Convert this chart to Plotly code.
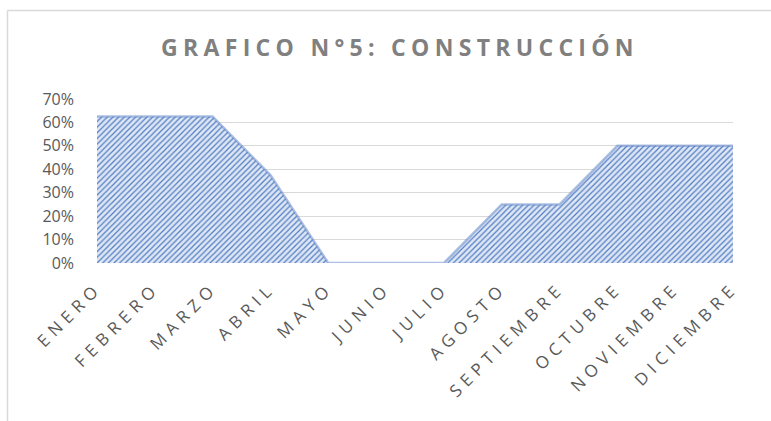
import plotly.graph_objects as go

months = ["ENERO", "FEBRERO", "MARZO", "ABRIL", "MAYO", "JUNIO", "JULIO",
          "AGOSTO", "SEPTIEMBRE", "OCTUBRE", "NOVIEMBRE", "DICIEMBRE"]
values = [0.625, 0.625, 0.625, 0.375, 0.0, 0.0, 0.0,
          0.25, 0.25, 0.50, 0.50, 0.50]
y_ticks = [0, 0.1, 0.2, 0.3, 0.4, 0.5, 0.6, 0.7]
title_text = "GRAFICO N°5: CONSTRUCCIÓN"

fig = go.Figure()
fig.add_trace(go.Scatter(
    x=months, y=values, mode="lines", fill="tozeroy",
    line=dict(color="rgba(91,130,200,0.5)", width=2.5),
    fillcolor="rgba(214,224,242,1)",
    fillpattern=dict(shape="/", fgcolor="#4f7cc4", bgcolor="#dfe7f4",
                     size=4, solidity=0.3, fillmode="replace"),
    hoverinfo="skip", showlegend=False,
))

fig.update_layout(
    width=771, height=421,
    margin=dict(l=97, r=38, t=99, b=158),
    paper_bgcolor="white", plot_bgcolor="white",
    title=dict(text=title_text, x=400 / 771, xanchor="center", xref="container",
               y=1 - 48 / 421, yanchor="middle", yref="container",
               font=dict(family="Open Sans", size=23, color="#808080", weight="bold")),
    font=dict(family="Open Sans", color="#595959"),
    xaxis=dict(type="category", range=[0, 11], showgrid=False, zeroline=False,
               showline=False, ticks="", tickangle=-45,
               tickfont=dict(size=17, color="#595959"), ticklabelstandoff=11),
    yaxis=dict(range=[0, 0.7], tickvals=y_ticks, tickformat=".0%",
               showgrid=True, gridcolor="#d9d9d9", gridwidth=1.3,
               zeroline=False, showline=False, ticks="",
               tickfont=dict(size=16, color="#595959"), ticklabelstandoff=22),
    shapes=[
        dict(type="line", xref="paper", yref="paper",
             x0=(7.5 - 97) / 636, x1=(771 - 97) / 636,
             y0=(263 - 10.5) / 164, y1=(263 - 10.5) / 164,
             line=dict(color="#d9d9d9", width=1.5)),
        dict(type="line", xref="paper", yref="paper",
             x0=(7.5 - 97) / 636, x1=(7.5 - 97) / 636,
             y0=(263 - 10.5) / 164, y1=(263 - 425) / 164,
             line=dict(color="#d9d9d9", width=1.5)),
    ],
)

post = """
document.body.style.margin='0';
document.body.style.overflow='hidden';
document.querySelectorAll('.xtick text').forEach(function(t){t.style.letterSpacing='5.5px';});
document.querySelectorAll('.gtitle').forEach(function(t){t.style.letterSpacing='5.3px';});
"""
fig.write_html("out.html", post_script=post, config={"displayModeBar": False})
